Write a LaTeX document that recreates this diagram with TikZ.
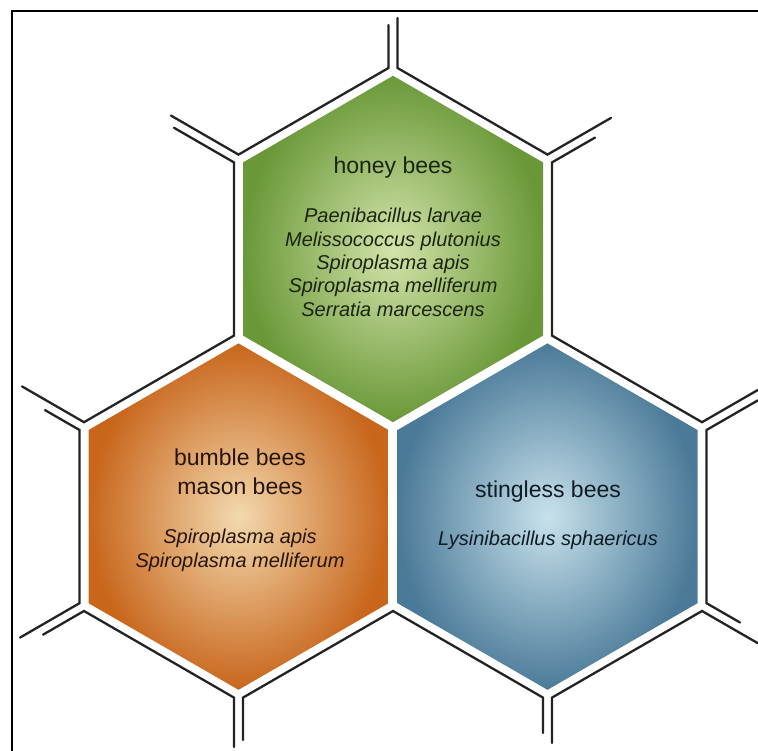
\documentclass[tikz,border=0pt]{standalone}
\usepackage{fontspec}
\setmainfont{Liberation Sans}
\definecolor{wallc}{HTML}{232323}
\definecolor{gin}{HTML}{D3E4AA}
\definecolor{gout}{HTML}{6A9838}
\definecolor{oin}{HTML}{F3D9AE}
\definecolor{oout}{HTML}{C8661C}
\definecolor{bin}{HTML}{C8E2EC}
\definecolor{bout}{HTML}{4B7A98}
\definecolor{gtext}{HTML}{1B2410}
\definecolor{otext}{HTML}{26150A}
\definecolor{btext}{HTML}{0F1C26}
\begin{document}
\begin{tikzpicture}[x=1pt,y=-1pt,
  wall/.style={draw=wallc,line width=2.3pt,line cap=round,line join=miter},
  frameline/.style={draw=black,line width=1.6pt},
  head/.style={anchor=base,inner sep=0pt,font=\fontsize{23}{27}\selectfont},
  spec/.style={anchor=base,inner sep=0pt,font=\fontsize{20}{24}\selectfont\itshape}]
\useasboundingbox (0,0) rectangle (758,751);
\fill[white] (0,0) rectangle (758,751);
% frame
\draw[frameline] (12,751) -- (12,11) -- (758,11);
% filled cells
\shade[inner color=gin,outer color=gout]
  (393,75.8) -- (543,162.4) -- (543,335.6) -- (393,422.2) -- (243,335.6) -- (243,162.4) -- cycle;
\shade[inner color=oin,outer color=oout]
  (238.5,343.4) -- (388.5,430) -- (388.5,603.2) -- (238.5,689.8) -- (88.5,603.2) -- (88.5,430) -- cycle;
\shade[inner color=bin,outer color=bout]
  (547.5,343.4) -- (697.5,430) -- (697.5,603.2) -- (547.5,689.8) -- (397.5,603.2) -- (397.5,430) -- cycle;
% walls of the empty cells
\draw[wall] (388.5,25) -- (388.5,68) -- (238.5,154.6) -- (171,115.6);
\draw[wall] (397.5,18) -- (397.5,68) -- (547.5,154.6) -- (611,117.9);
\draw[wall] (174,127.8) -- (234,162.4) -- (234,335.6) -- (84,422.2) -- (22,386.4);
\draw[wall] (595,137.6) -- (552,162.4) -- (552,335.6) -- (702,422.2) -- (758,389.9);
\draw[wall] (45,410.1) -- (79.5,430) -- (79.5,603.2) -- (20,637.6);
\draw[wall] (758,400.3) -- (706.5,430) -- (706.5,603.2) -- (740,622.5);
\draw[wall] (43,634.7) -- (84,611) -- (234,697.6) -- (234,747);
\draw[wall] (243,740) -- (243,697.6) -- (393,611) -- (543,697.6) -- (543,733);
\draw[wall] (552,743) -- (552,697.6) -- (702,611) -- (758,643.3);
% texts
\node[head,text=gtext] (hb) at (393,174) {honey bees};
\node[spec,text=gtext] (hb1) at (393,223) {Paenibacillus larvae};
\node[spec,text=gtext] (hb2) at (393,246.3) {Melissococcus plutonius};
\node[spec,text=gtext] (hb3) at (393,269.6) {Spiroplasma apis};
\node[spec,text=gtext] (hb4) at (393,292.9) {Spiroplasma melliferum};
\node[spec,text=gtext] (hb5) at (393,316.2) {Serratia marcescens};
\node[head,text=otext] (bb) at (240,465.5) {bumble bees};
\node[head,text=otext] (mb) at (240,494.5) {mason bees};
\node[spec,text=otext] (bb1) at (240,543.5) {Spiroplasma apis};
\node[spec,text=otext] (bb2) at (240,567) {Spiroplasma melliferum};
\node[head,text=btext] (sb) at (548,497) {stingless bees};
\node[spec,text=btext] (sb1) at (548,545) {Lysinibacillus sphaericus};
\end{tikzpicture}
\end{document}
